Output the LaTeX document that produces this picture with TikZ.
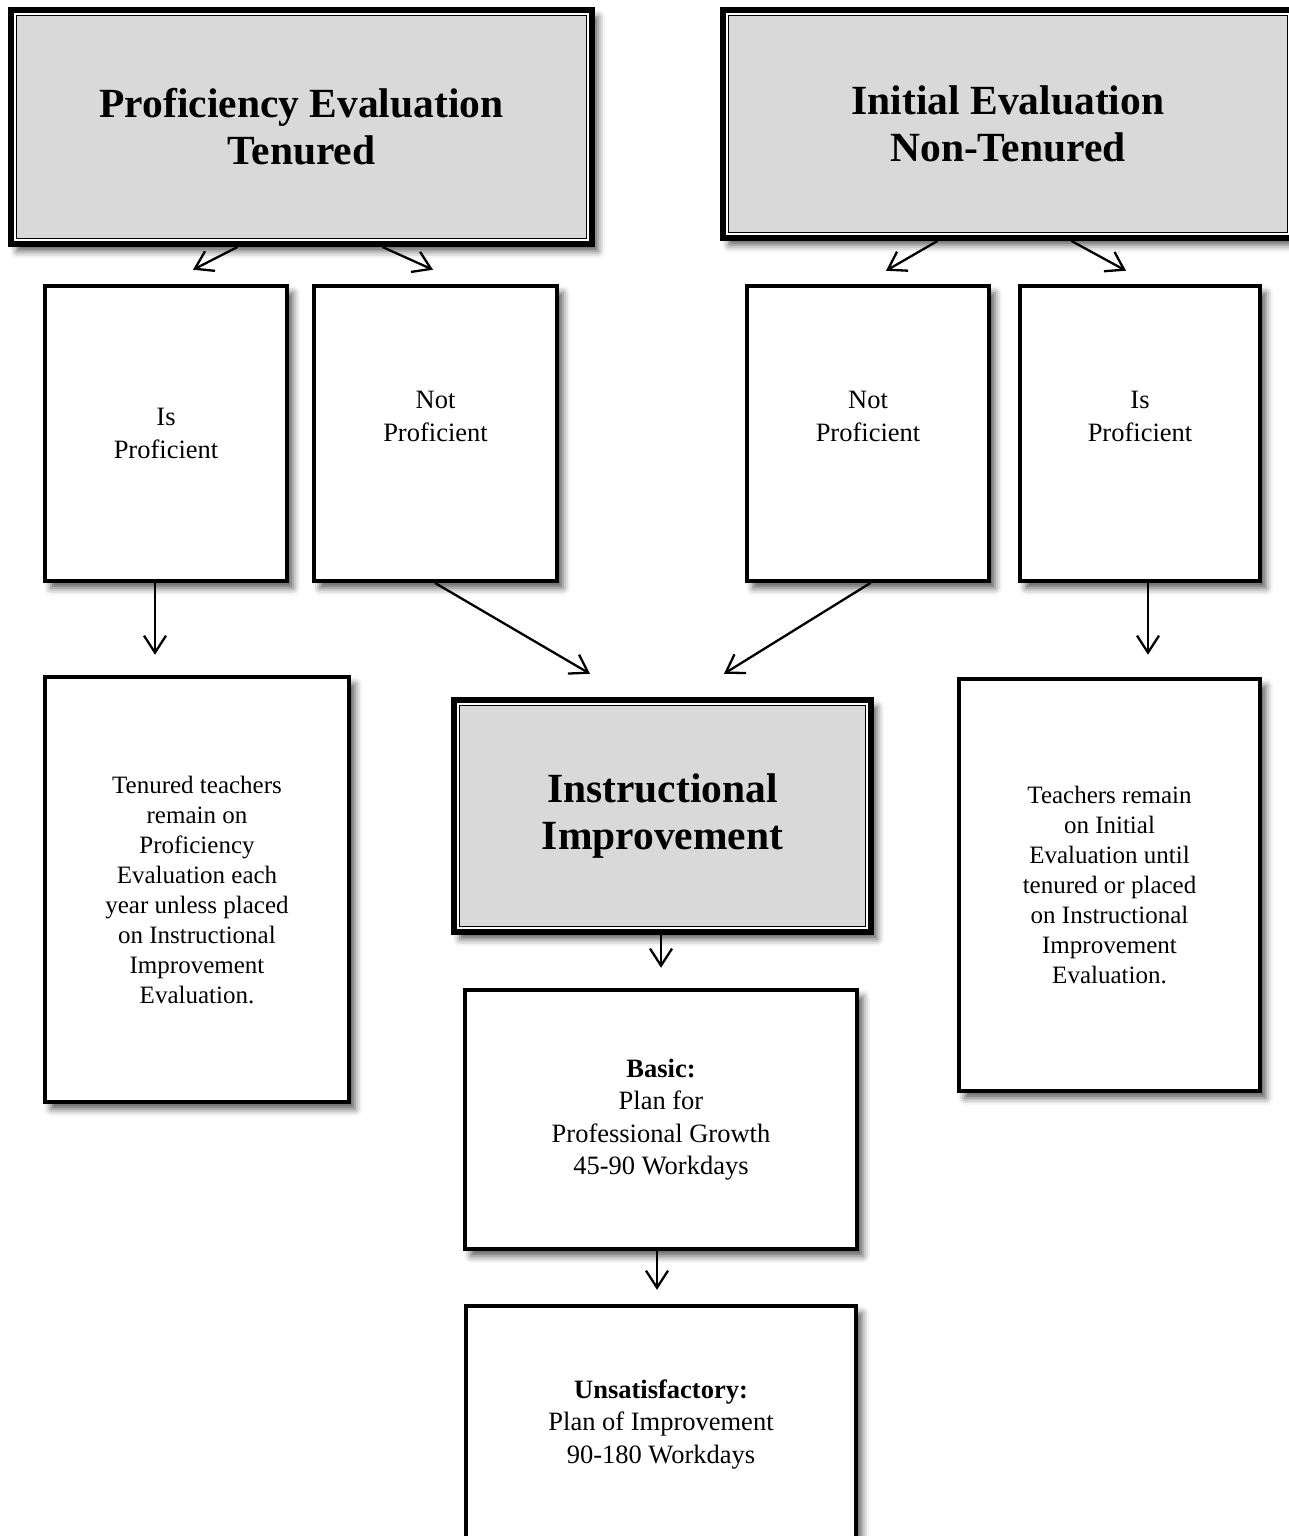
\documentclass[tikz,border=0pt]{standalone}
\usepackage{fontspec}
\setmainfont{Liberation Serif}
\usepackage{xcolor}
\usetikzlibrary{arrows.meta,shadows.blur}
\definecolor{boxgray}{HTML}{D9D9D9}
\newcommand{\headfont}{\fontsize{41.5}{47}\selectfont\bfseries}
\newcommand{\bodyfont}{\fontsize{26.5}{32.5}\selectfont}
\newcommand{\notefont}{\fontsize{25}{30}\selectfont}

\begin{document}
\begin{tikzpicture}[x=1pt, y=-1pt,
    boxshadow/.style={blur shadow={shadow xshift=6pt, shadow yshift=-7pt,
        shadow blur radius=7pt, shadow opacity=65}},
    plainbox/.style={draw=black, line width=4.5pt, fill=white, inner sep=0pt,
        align=center, font=\bodyfont, boxshadow},
    headbox/.style={draw=black, line width=6.5pt, fill=boxgray, inner sep=0pt,
        align=center, font=\headfont, boxshadow,
        path picture={
            \draw[white, line width=1.6pt]
                ([shift={(3.8pt,3.8pt)}]path picture bounding box.south west) rectangle
                ([shift={(-3.8pt,-3.8pt)}]path picture bounding box.north east);
            \draw[black, line width=1.3pt]
                ([shift={(5.8pt,5.8pt)}]path picture bounding box.south west) rectangle
                ([shift={(-5.8pt,-5.8pt)}]path picture bounding box.north east);
        }},
    txt/.style={align=center, font=\bodyfont, inner sep=0pt},
    arr/.style={line width=2.3pt, line cap=round,
        -{Straight Barb[length=17pt, width=22pt, line width=2.3pt]}}]
    \useasboundingbox (0,0) rectangle (1289,1536);

    % evaluation types
    \node[headbox, minimum width=581pt, minimum height=234pt] (pe) at (301.5,127)
        {Proficiency Evaluation\\Tenured};
    \node[headbox, minimum width=570pt, minimum height=228pt] (ie) at (1008,124)
        {Initial Evaluation\\Non-Tenured};

    % outcomes
    \node[plainbox, minimum width=242pt, minimum height=295pt] (isp1) at (166,433.5)
        {Is\\Proficient};
    \node[plainbox, minimum width=243pt, minimum height=295pt] (np1) at (435.5,433.5) {};
    \node[plainbox, minimum width=242pt, minimum height=295pt] (np2) at (868,433.5) {};
    \node[plainbox, minimum width=240pt, minimum height=295pt] (isp2) at (1140,433.5) {};
    \node[txt] (npt1) at ([yshift=17pt]np1.center) {Not\\Proficient};
    \node[txt] (npt2) at ([yshift=17pt]np2.center) {Not\\Proficient};
    \node[txt] (ispt2) at ([yshift=17pt]isp2.center) {Is\\Proficient};

    \node[plainbox, font=\notefont, minimum width=304pt, minimum height=425pt] (ten) at (197,889.5)
        {Tenured teachers\\remain on\\Proficiency\\Evaluation each\\year unless placed\\on Instructional\\Improvement\\Evaluation.};
    \node[plainbox, font=\notefont, minimum width=301pt, minimum height=412pt] (rem) at (1109.5,885)
        {Teachers remain\\on Initial\\Evaluation until\\tenured or placed\\on Instructional\\Improvement\\Evaluation.};

    \node[headbox, minimum width=417pt, minimum height=232pt] (ii) at (662.5,816)
        {Instructional\\Improvement};
    \node[plainbox, minimum width=392pt, minimum height=259pt] (basic) at (661,1119.5)
        {\textbf{Basic:}\\Plan for\\Professional Growth\\45-90 Workdays};
    \node[plainbox, minimum width=390pt, minimum height=237pt] (unsat) at (661,1424.5)
        {\textbf{Unsatisfactory:}\\Plan of Improvement\\90-180 Workdays};

    % connectors
    \draw[arr] ([xshift=-64.5pt]pe.south) -- ([xshift=27pt,yshift=14pt]isp1.north);
    \draw[arr] ([xshift=81.5pt]pe.south) -- ([xshift=-2.5pt,yshift=14pt]np1.north);
    \draw[arr] ([xshift=-71pt]ie.south) -- ([xshift=18pt,yshift=13pt]np2.north);
    \draw[arr] ([xshift=64pt]ie.south) -- ([xshift=-14pt,yshift=13pt]isp2.north);
    \draw[arr] ([xshift=-11pt]isp1.south) -- ([xshift=-42pt,yshift=20pt]ten.north);
    \draw[arr] (np1.south) -- ([xshift=-72.5pt,yshift=23pt]ii.north);
    \draw[arr] ([xshift=2pt]np2.south) -- ([xshift=61.5pt,yshift=23pt]ii.north);
    \draw[arr] ([xshift=8pt]isp2.south) -- ([xshift=38.5pt,yshift=22pt]rem.north);
    \draw[arr] ([xshift=-1.5pt]ii.south) -- ([yshift=20pt]basic.north);
    \draw[arr] ([xshift=-4pt]basic.south) -- ([xshift=-4pt,yshift=14pt]unsat.north);
\end{tikzpicture}
\end{document}
